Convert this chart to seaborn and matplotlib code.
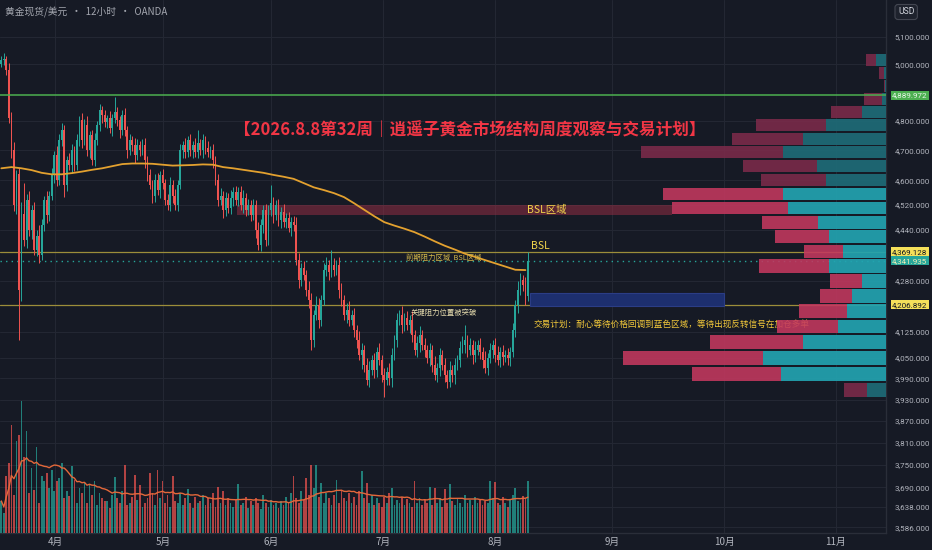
import numpy as np
import pandas as pd
import matplotlib
matplotlib.use("Agg")
import matplotlib.pyplot as plt
import matplotlib.transforms as mtransforms
from matplotlib.patches import Rectangle
from matplotlib.ticker import FuncFormatter, NullLocator
import seaborn as sns

# ---- datos (velas de 12h, XAUUSD OANDA) ----
first_open = 5000
closes = [
    5014, 5020, 4980, 4810, 4700, 4520, 4620, 4253, 4490, 4407,
    4535, 4440, 4503, 4376, 4420, 4360, 4455, 4535, 4487, 4550,
    4617, 4684, 4601, 4734, 4768, 4585, 4667, 4650, 4701, 4650,
    4734, 4803, 4734, 4786, 4701, 4751, 4667, 4734, 4786, 4838,
    4820, 4796, 4810, 4775, 4810, 4830, 4803, 4768, 4820, 4768,
    4701, 4734, 4718, 4684, 4718, 4701, 4718, 4667, 4617, 4585,
    4550, 4601, 4568, 4617, 4590, 4535, 4519, 4585, 4550, 4519,
    4585, 4701, 4718, 4694, 4734, 4701, 4718, 4694, 4724, 4701,
    4734, 4708, 4694, 4701, 4667, 4601, 4535, 4550, 4503, 4542,
    4510, 4542, 4562, 4535, 4562, 4519, 4542, 4503, 4519, 4487,
    4519, 4439, 4391, 4455, 4503, 4407, 4503, 4525, 4487, 4519,
    4471, 4497, 4465, 4478, 4446, 4465, 4455, 4345, 4283, 4320,
    4298, 4253, 4222, 4102, 4177, 4207, 4162, 4222, 4314, 4330,
    4308, 4330, 4314, 4330, 4253, 4222, 4177, 4192, 4162, 4177,
    4132, 4102, 4058, 4073, 4029, 3986, 4015, 4044, 4015, 4067,
    4044, 4000, 3986, 4009, 3992, 4058, 4102, 4162, 4177, 4147,
    4168, 4147, 4162, 4117, 4073, 4093, 4117, 4088, 4073, 4050,
    4073, 4029, 4000, 4021, 4058, 4029, 4000, 3980, 4015, 4000,
    4029, 4044, 4079, 4088, 4102, 4073, 4088, 4058, 4073, 4088,
    4067, 4044, 4021, 4050, 4073, 4088, 4058, 4044, 4067, 4053,
    4058, 4050, 4067, 4132, 4207, 4253, 4283, 4268, 4232, 4342,
]
# mecha superior / inferior (puntos sobre el cuerpo)
wick_up = [
    15, 20, 10, 25, 20, 30, 15, 20, 40, 100,
    20, 30, 15, 25, 20, 35, 20, 15, 30, 15,
    25, 15, 30, 20, 25, 20, 15, 25, 20, 15,
    20, 15, 25, 20, 30, 15, 20, 25, 15, 20,
    15, 20, 10, 25, 15, 55, 20, 15, 20, 25,
    15, 20, 15, 25, 20, 15, 20, 25, 15, 20,
    15, 20, 25, 15, 20, 15, 20, 25, 15, 20,
    15, 20, 15, 25, 15, 20, 15, 25, 44, 15,
    20, 15, 25, 15, 20, 15, 20, 25, 15, 20,
    15, 25, 15, 20, 15, 20, 25, 15, 20, 15,
    20, 15, 25, 20, 15, 20, 15, 60, 20, 15,
    20, 15, 25, 15, 20, 15, 20, 25, 20, 15,
    20, 15, 25, 20, 15, 25, 20, 15, 20, 25,
    15, 46, 20, 15, 25, 20, 15, 20, 25, 15,
    20, 15, 25, 20, 15, 20, 25, 15, 20, 15,
    25, 15, 20, 15, 25, 20, 15, 20, 15, 25,
    15, 20, 15, 25, 15, 20, 25, 15, 20, 15,
    20, 15, 25, 15, 20, 15, 20, 15, 25, 15,
    20, 15, 20, 25, 45, 15, 20, 15, 25, 15,
    20, 15, 25, 15, 20, 15, 20, 25, 15, 20,
    15, 20, 15, 20, 15, 25, 20, 15, 25, 27,
]
wick_dn = [
    10, 15, 20, 15, 25, 20, 30, 150, 35, 20,
    25, 20, 30, 15, 20, 25, 15, 20, 25, 20,
    15, 25, 20, 15, 20, 40, 20, 15, 25, 20,
    15, 20, 25, 15, 20, 25, 15, 20, 15, 20,
    25, 15, 20, 15, 25, 15, 20, 25, 15, 20,
    25, 15, 20, 25, 15, 20, 15, 25, 20, 15,
    25, 20, 15, 25, 20, 15, 16, 20, 25, 15,
    20, 15, 25, 20, 15, 20, 25, 15, 20, 15,
    25, 20, 15, 20, 25, 15, 20, 15, 25, 20,
    15, 20, 25, 15, 20, 15, 25, 20, 15, 20,
    15, 25, 15, 20, 25, 20, 15, 20, 25, 15,
    20, 25, 15, 20, 15, 25, 20, 15, 25, 20,
    15, 20, 25, 29, 20, 15, 25, 20, 15, 20,
    25, 15, 20, 15, 25, 20, 15, 25, 20, 15,
    20, 25, 15, 40, 20, 16, 20, 15, 25, 20,
    15, 20, 49, 15, 20, 25, 15, 20, 15, 25,
    20, 15, 25, 20, 15, 20, 25, 15, 20, 15,
    25, 20, 15, 20, 25, 15, 20, 18, 15, 20,
    25, 15, 20, 15, 25, 20, 15, 25, 20, 15,
    20, 25, 15, 20, 15, 25, 20, 15, 20, 25,
    15, 20, 25, 15, 20, 25, 15, 20, 25, 15,
]
volume = [
    32, 20, 57, 70, 108, 38, 92, 98, 132, 76,
    102, 40, 65, 43, 86, 30, 57, 52, 60, 45,
    63, 42, 52, 55, 70, 35, 42, 37, 67, 53,
    30, 45, 40, 50, 30, 48, 38, 52, 28, 40,
    35, 32, 32, 25, 38, 56, 35, 30, 42, 68,
    28, 30, 36, 58, 33, 48, 26, 30, 35, 60,
    40, 28, 63, 35, 52, 30, 38, 26, 57, 32,
    30, 40, 28, 35, 44, 30, 25, 36, 30, 32,
    38, 28, 35, 30, 40, 26, 46, 30, 42, 28,
    35, 30, 26, 33, 49, 28, 30, 36, 25, 32,
    28, 35, 30, 24, 38, 30, 26, 33, 28, 30,
    25, 32, 28, 36, 30, 40, 57, 35, 30, 42,
    33, 55, 38, 68, 45, 68, 36, 50, 30, 40,
    35, 28, 38, 53, 30, 43, 35, 32, 40, 30,
    36, 28, 42, 62, 35, 50, 30, 38, 28, 35,
    30, 26, 36, 30, 40, 45, 28, 33, 30, 36,
    28, 34, 30, 26, 52, 30, 35, 28, 33, 30,
    46, 28, 45, 30, 35, 26, 44, 30, 49, 32,
    28, 35, 30, 26, 38, 30, 33, 28, 36, 30,
    34, 28, 32, 30, 52, 35, 51, 30, 28, 36,
    30, 26, 34, 38, 45, 32, 30, 37, 35, 52,
]
# media movil del precio (muestreada cada 4 velas)
ma_bars = list(range(0, 209, 4))
ma_vals = [
    4640, 4644, 4640, 4634, 4625, 4620, 4620, 4624, 4629, 4635,
    4640, 4647, 4654, 4656, 4656, 4655, 4652, 4649, 4650, 4651,
    4653, 4652, 4644, 4640, 4635, 4630, 4625, 4618, 4612, 4605,
    4591, 4577, 4568, 4558, 4545, 4525, 4504, 4483, 4464, 4453,
    4443, 4432, 4418, 4403, 4389, 4377, 4364, 4354, 4344, 4334,
    4324, 4314, 4313,
]
# perfil de volumen (de abajo hacia arriba)
vp_bins = [3937, 3983, 4029, 4075, 4121, 4167, 4213, 4259, 4305, 4351, 4397, 4443,
           4489, 4535, 4581, 4627, 4673, 4719, 4765, 4811, 4857, 4903, 4949, 4995]
vp_step = 46
vp_up = [19, 105, 123, 83, 48, 39, 34, 24, 57, 43, 57, 68, 98, 103, 60, 69, 103, 83, 60, 24, 4, 1, 2, 10]
vp_down = [23, 89, 140, 93, 61, 48, 32, 32, 70, 39, 54, 56, 116, 120, 65, 74, 142, 71, 70, 31, 18, 1, 5, 10]
vp_value_area = [False] + [True] * 13 + [False] * 10

month_pos = [21.3, 64.2, 107.0, 151.5, 195.9, 242.3, 286.8, 331.2]
month_labels = ["4月", "5月", "6月", "7月", "8月", "9月", "10月", "11月"]
price_ticks = [5100, 5000, 4800, 4700, 4600, 4520, 4440, 4280, 4125, 4050, 3990,
               3930, 3870, 3810, 3750, 3690, 3638, 3586]

green_level = 4889.972
bsl_level = 4369.128
last_price = 4341.935
key_level = 4206.892
bsl_zone = (93.5, 266.0, 4486, 4519)
blue_zone = (209.8, 286.8, 4203, 4242)

bg = "#161a25"
up_col = "#26a69a"
dn_col = "#ef5350"
scale_font = ["Roboto", "DejaVu Sans"]

sns.set_theme(style="darkgrid", rc={
    "axes.facecolor": bg, "figure.facecolor": bg, "grid.color": "#232733",
    "grid.linewidth": 0.8, "axes.edgecolor": "#2a2e39",
})
plt.rcParams["font.family"] = ["Noto Sans CJK SC", "DejaVu Sans"]

closes = np.array(closes, dtype=float)
opens = np.r_[first_open, closes[:-1]]
idx = np.arange(len(closes))
highs = np.maximum(opens, closes) + np.array(wick_up)
lows = np.minimum(opens, closes) - np.array(wick_dn)
is_up = closes >= opens
cols = np.where(is_up, up_col, dn_col)

fig = plt.figure(figsize=(9.32, 5.5), dpi=100)
ax = fig.add_axes([0, 17 / 550, 886 / 932, 533 / 550])
ax.set_yscale("log")

# velas
ax.vlines(idx, lows, highs, colors=cols, lw=0.7, zorder=3)
body_lo = np.minimum(opens, closes)
body_h = np.maximum(np.abs(closes - opens), 1.5)
ax.bar(idx, body_h, bottom=body_lo, width=0.7, color=cols, lw=0, zorder=4)

sns.lineplot(x=ma_bars, y=ma_vals, ax=ax, color="#e3a12f", lw=1.3, zorder=5)

# niveles y zonas
ax.axhline(bsl_level, color="#9c8d3a", lw=0.9, zorder=2)
ax.axhline(key_level, color="#9c8d3a", lw=0.9, zorder=2)
ax.axhline(last_price, color=up_col, lw=1.0, ls=(0, (1, 3)), zorder=2)
x0, x1, y0, y1 = bsl_zone
ax.add_patch(Rectangle((x0, y0), x1 - x0, y1 - y0, fc="#9c2f45", alpha=0.5, lw=0, zorder=2))
x0, x1, y0, y1 = blue_zone
ax.add_patch(Rectangle((x0, y0), x1 - x0, y1 - y0, fc="#1d2f6e", ec="#2b3d85", lw=0.8, zorder=2))

# textos
ax.text(0.5305, 0.756, "【2026.8.8第32周｜逍遥子黄金市场结构周度观察与交易计划】",
        transform=ax.transAxes, ha="center", va="center", color="#f23645",
        fontsize=12, fontweight="bold", zorder=6)
ax.text(208.7, 4503, "BSL区域", color="#f2d64b", fontsize=7.5, va="center", ha="left", zorder=6)
ax.text(210.2, 4388, "BSL", color="#f2d64b", fontsize=7.5, va="center", ha="left", zorder=6)
ax.text(175.7, 4352, "前期阻力区域  BSL区域", color="#d4b84a", fontsize=5.3,
        va="center", ha="center", zorder=6)
ax.text(175.5, 4182, "关键阻力位置被突破", color="#e6dcae", fontsize=5.3,
        va="center", ha="center", zorder=6)
ax.text(211.4, 4149, "交易计划：耐心等待价格回调到蓝色区域，等待出现反转信号在加仓多单",
        color="#f2c83a", fontsize=6.2, va="center", ha="left", zorder=6)

# volumen
ax_vol = ax.twinx()
vol = pd.Series(volume, dtype=float)
ax_vol.bar(idx, vol, width=0.7, color=cols, alpha=0.72, lw=0)
sns.lineplot(x=idx, y=vol.rolling(20, min_periods=1).mean(), ax=ax_vol, color="#e4683a", lw=1.0)
ax_vol.set_ylim(0, vol.max() * 4.03)
ax_vol.axis("off")

# perfil de volumen
ax_vp = ax.twiny()
vp_up_a = np.array(vp_up, dtype=float)
vp_dn_a = np.array(vp_down, dtype=float)
teal_c = np.where(vp_value_area, "#22a3b0", "#1e6b77")
pink_c = np.where(vp_value_area, "#c4385f", "#7c2b4a")
ax_vp.barh(vp_bins, vp_up_a, height=vp_step * 0.9, left=0, align="edge", color=teal_c, alpha=0.92, lw=0)
ax_vp.barh(vp_bins, vp_dn_a, height=vp_step * 0.9, left=vp_up_a, align="edge", color=pink_c, alpha=0.88, lw=0)
ax_vp.axhline(green_level, color="#4caf50", lw=1.1)
ax_vp.set_xlim((vp_up_a + vp_dn_a).max() * 3.37, 0)
ax_vp.grid(False)
ax_vp.set_xticks([])
ax_vp.tick_params(length=0, labeltop=False)
for s in ax_vp.spines.values():
    s.set_visible(False)

# ejes (despues de los twins, que mueven los ticks)
ax.set_xlim(-0.52, 351.1)
ax.set_ylim(3571, 5236)
ax.set_xticks(month_pos)
ax.set_xticklabels(month_labels)
ax.yaxis.tick_right()
ax.yaxis.set_label_position("right")
ax.set_yticks(price_ticks)
ax.yaxis.set_major_formatter(FuncFormatter(lambda v, p: f"{v:,.3f}"))
ax.yaxis.set_minor_locator(NullLocator())
ax.tick_params(axis="x", labelsize=7, colors="#b2b5be", length=0, pad=3)
ax.tick_params(axis="y", labelsize=5.8, colors="#b2b5be", length=0, pad=6,
               labelright=True, labelleft=False)
for lab in ax.get_yticklabels():
    lab.set_family(scale_font)
ax.set_xlabel("")
ax.set_ylabel("")
for s in ["left", "top"]:
    ax.spines[s].set_visible(False)
for s in ["right", "bottom"]:
    ax.spines[s].set_color("#2a2e39")
    ax.spines[s].set_linewidth(1)

# etiquetas de precio en la escala
trans = mtransforms.blended_transform_factory(ax.transAxes, ax.transData)
for val, fc, tc in [(green_level, "#4caf50", "#e8f5e9"), (bsl_level, "#f5e05a", "#131722"),
                    (last_price, up_col, "#f3eeb8"), (key_level, "#f5e05a", "#131722")]:
    ax.text(1.007, val, f"{val:,.3f}", transform=trans, ha="left", va="center",
            fontsize=5.8, family=scale_font, color=tc, clip_on=False, zorder=10,
            bbox=dict(boxstyle="square,pad=0.2", fc=fc, ec="none"))

fig.text(5 / 932, 1 - 12 / 550, "黄金现货/美元  ·  12小时  ·  OANDA", color="#a3a6af",
         fontsize=7, va="center", ha="left")
fig.text(898 / 932, 1 - 12 / 550, "USD", color="#d1d4dc", fontsize=6.2, va="center", ha="left",
         family=scale_font,
         bbox=dict(boxstyle="round,pad=0.35", fc="#1e222d", ec="#434651", lw=0.8))

fig.savefig("out.png", dpi=100, facecolor=bg)
